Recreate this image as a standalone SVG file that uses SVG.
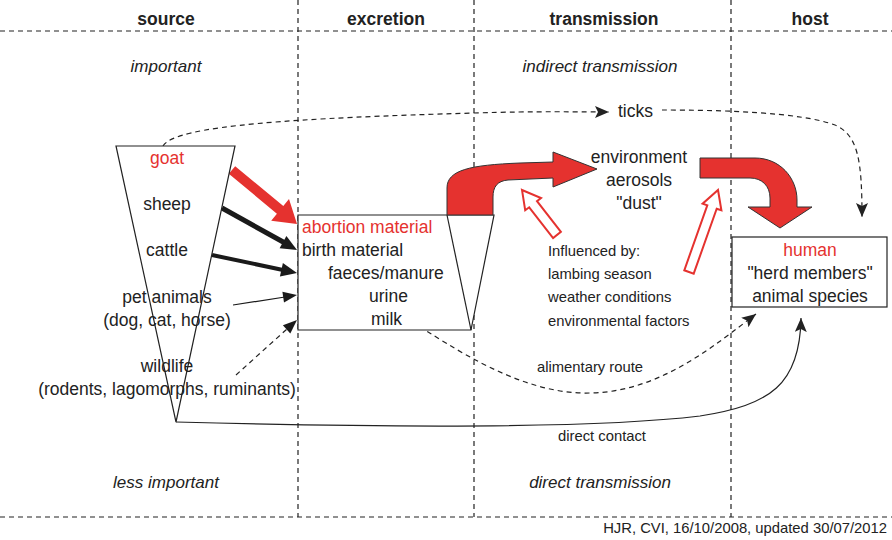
<svg xmlns="http://www.w3.org/2000/svg" width="892" height="540" viewBox="0 0 892 540">
<defs>
<style>
text{font-family:"Liberation Sans",Arial,sans-serif;fill:#222}
.hd{font-size:17.5px;font-weight:bold;text-anchor:middle}
.it{font-size:17px;font-style:italic;text-anchor:middle}
.t{font-size:17.5px}
.c{text-anchor:middle}
.s{font-size:14.8px}
.red{fill:#e5322f}
.grid{stroke:#222;stroke-width:1.2;stroke-dasharray:5,4;fill:none}
.dash{stroke:#222;stroke-width:1.2;stroke-dasharray:5,4;fill:none}
.solid{stroke:#222;stroke-width:1.2;fill:none}
.shape{fill:#fff;stroke:#222;stroke-width:1.2}
.bigred{fill:#e5322f;stroke:#333;stroke-width:1}
.hollow{fill:#fff;stroke:#e5322f;stroke-width:2}
</style>
<marker id="ah" markerUnits="userSpaceOnUse" markerWidth="14" markerHeight="12" refX="14" refY="6" orient="auto">
<path d="M0,0 L14,6 L0,12 L3,6 Z" fill="#222"/>
</marker>
</defs>
<rect width="892" height="540" fill="#fff"/>

<g id="grid">
<line class="grid" x1="0" y1="31" x2="892" y2="31"/>
<line class="grid" x1="0" y1="517" x2="892" y2="517"/>
<line class="grid" x1="298" y1="0" x2="298" y2="517"/>
<line class="grid" x1="474" y1="0" x2="474" y2="517"/>
<line class="grid" x1="731" y1="0" x2="731" y2="517"/>
</g>

<g id="headers">
<text class="hd" x="166" y="25">source</text>
<text class="hd" x="386" y="25">excretion</text>
<text class="hd" x="604" y="25">transmission</text>
<text class="hd" x="810" y="25">host</text>
<text class="it" x="166" y="72">important</text>
<text class="it" x="600" y="72">indirect transmission</text>
<text class="it" x="166" y="488">less important</text>
<text class="it" x="600" y="488">direct transmission</text>
</g>

<g id="connectors">
<path class="dash" d="M163,146 C175,125 300,118 474,113 C540,111 580,112 609,112" marker-end="url(#ah)"/>
<path class="dash" d="M662,110 C720,110 800,112 835,125 C858,135 862,160 862,217" marker-end="url(#ah)"/>
<path class="dash" d="M412,322 C450,345 520,395 590,393 C660,392 715,345 756,314" marker-end="url(#ah)"/>
<path class="solid" d="M176,422 C400,428 600,428 700,416 C770,405 800,385 801,318" marker-end="url(#ah)"/>
<!-- source to excretion arrows -->
<polygon fill="#e5322f" points="228.8,173.8 235.2,166.2 283.3,206.1 289.0,199.1 297,224 271.2,220.7 276.9,213.7"/>
<line x1="222" y1="208" x2="285" y2="243" stroke="#1a1a1a" stroke-width="5"/>
<polygon fill="#1a1a1a" points="297,250 279.6,248.3 286.4,236.1"/>
<line x1="212" y1="255" x2="283" y2="270" stroke="#1a1a1a" stroke-width="4"/>
<polygon fill="#1a1a1a" points="297,273 279.9,276.5 282.9,262.9"/>
<line x1="233" y1="305" x2="285" y2="297" stroke="#1a1a1a" stroke-width="1.2"/>
<polygon fill="#1a1a1a" points="297,295 284.0,302.6 282.4,291.8"/>
<line class="dash" x1="236" y1="375" x2="287" y2="329"/>
<polygon fill="#1a1a1a" points="297,320 290.3,333.5 282.9,325.3"/>
<!-- hollow red arrows -->
<polygon class="hollow" points="522,190 541.0,198.1 537.0,201.1 560.9,231.9 553.1,238.1 529.2,207.3 525.2,210.3"/>
<polygon class="hollow" points="718,190 721.4,210.3 716.7,208.7 693.7,273.7 684.3,270.3 707.3,205.3 702.6,203.7"/>
</g>

<g id="source">
<polygon class="shape" points="116,146 235,146 176,422"/>
<text class="t c red" x="167" y="164">goat</text>
<text class="t c" x="167" y="210">sheep</text>
<text class="t c" x="167" y="256">cattle</text>
<text class="t c" x="167" y="303">pet animals</text>
<text class="t c" x="167" y="326">(dog, cat, horse)</text>
<text class="t c" x="167" y="372">wildlife</text>
<text class="t c" x="167" y="395">(rodents, lagomorphs, ruminants)</text>
</g>

<g id="excretion">
<polygon class="shape" points="298,215 494,215 471,330 298,330"/>
<line class="solid" x1="447" y1="215" x2="471" y2="330"/>
<text class="t red" x="302" y="233">abortion material</text>
<text class="t" x="302" y="256">birth material</text>
<text class="t" x="328" y="279">faeces/manure</text>
<text class="t" x="369" y="302">urine</text>
<text class="t" x="371" y="325">milk</text>
</g>

<g id="arrow-to-environment">
<path class="bigred" d="M447,215 L447,188 C447,170 470,165 520,163 L553,162 L553,152 L597,169 L553,187 L553,178 L508,180 C497,181 493,187 493,197 L493,215 Z"/>
</g>

<g id="environment">
<text class="t c" x="639" y="163">environment</text>
<text class="t c" x="639" y="186">aerosols</text>
<text class="t c" x="639" y="209">"dust"</text>
</g>

<g id="influences">
<text class="s" x="548" y="256">Influenced by:</text>
<text class="s" x="548" y="279">lambing season</text>
<text class="s" x="548" y="302">weather conditions</text>
<text class="s" x="548" y="326">environmental factors</text>
</g>

<g id="ticks">
<text class="t" x="618" y="117">ticks</text>
</g>

<g id="arrow-to-host">
<path class="bigred" d="M700,158 L755,158 C780,158 797,178 797,200 L797,207 L812,207 L780,228 L748,207 L770,207 L770,198 C770,186 762,178 750,178 L700,178 Z"/>
</g>

<g id="host">
<rect class="shape" x="732" y="237" width="155" height="70"/>
<text class="t c red" x="810" y="256">human</text>
<text class="t c" x="810" y="279">"herd members"</text>
<text class="t c" x="810" y="302">animal species</text>
</g>

<g id="labels">
<text class="s c" x="590" y="372">alimentary route</text>
<text class="s c" x="602" y="441">direct contact</text>
<text class="s" x="887" y="533" text-anchor="end">HJR, CVI, 16/10/2008, updated 30/07/2012</text>
</g>
</svg>
